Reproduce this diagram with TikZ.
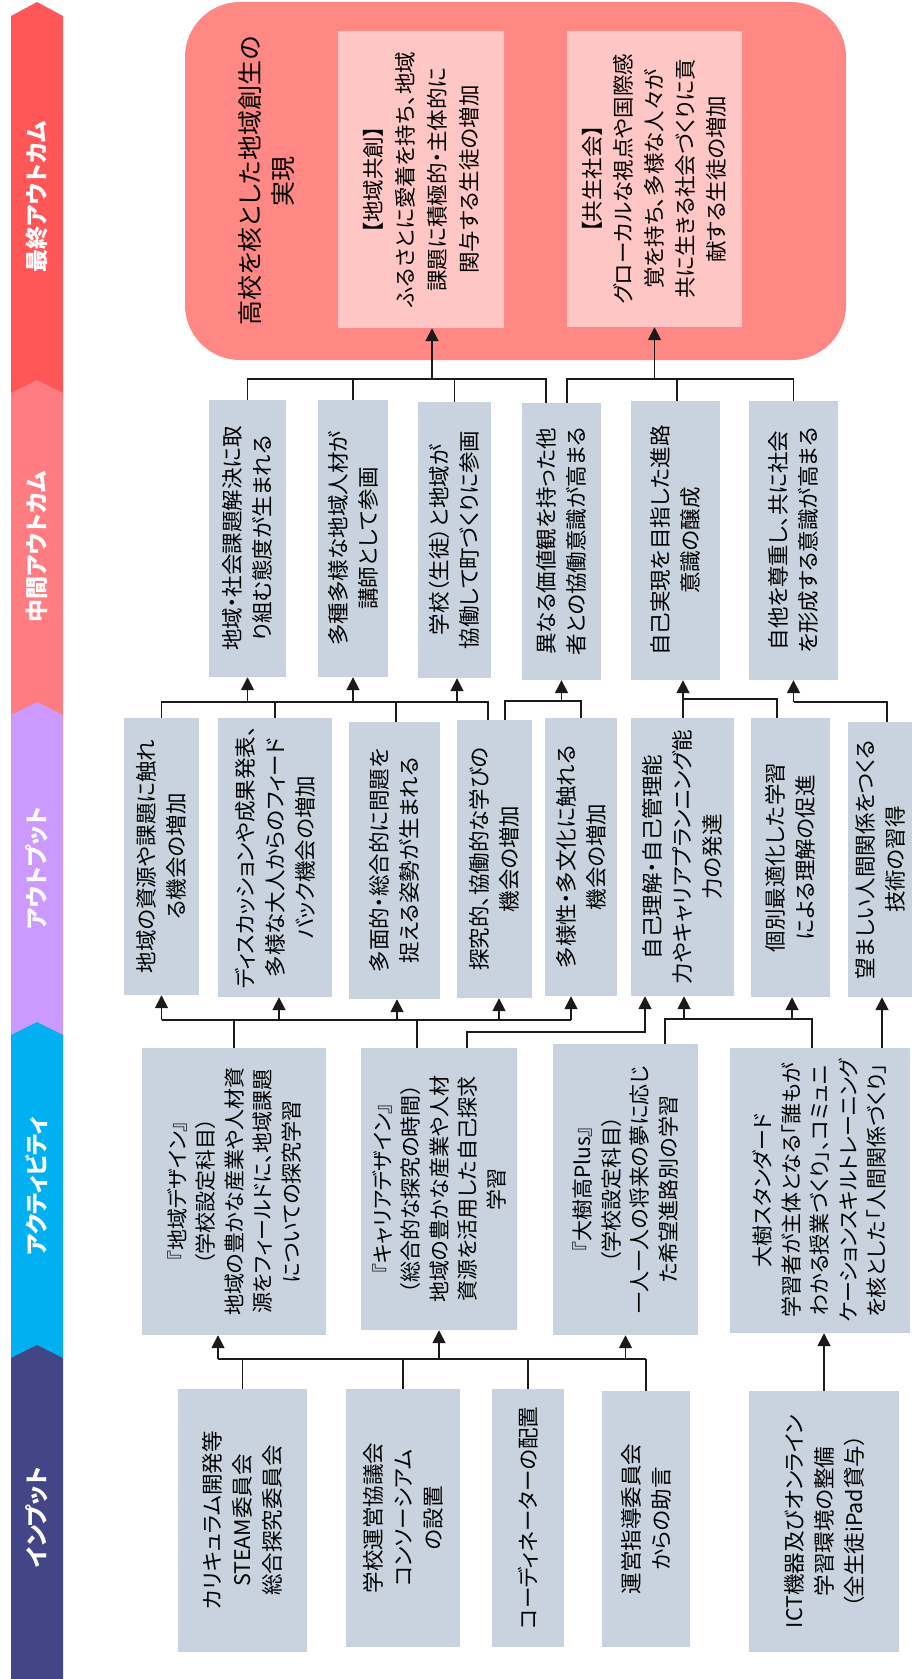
\documentclass[tikz,border=0pt]{standalone}
\usepackage{fontspec}
\setmainfont{Noto Sans CJK JP}[RawFeature=+palt]
\usetikzlibrary{arrows.meta,calc}
\definecolor{hfin}{HTML}{FF5757}
\definecolor{hmid}{HTML}{FF7C80}
\definecolor{hout}{HTML}{CC99FF}
\definecolor{hact}{HTML}{00B0F0}
\definecolor{hin}{HTML}{424586}
\definecolor{bigc}{HTML}{FF8884}
\definecolor{pinkc}{HTML}{FFC6C6}
\definecolor{boxc}{HTML}{C8D3DF}
\definecolor{lnc}{HTML}{1A1A1A}
\begin{document}
\begin{tikzpicture}[x=1pt,y=-1pt,
  ln/.style={line width=1.8pt, draw=lnc},
  arr/.style={ln, -{Triangle[length=13pt,width=13pt]}},
  box/.style={rotate=90, fill=boxc, inner sep=0pt, align=center, font=\fontsize{21.5}{30}\selectfont},
  abox/.style={box, font=\fontsize{21}{28.5}\selectfont},
  hdr/.style={rotate=90, text=white, font=\bfseries\fontsize{23}{26}\selectfont}]
\useasboundingbox (0,0) rectangle (914,1679);
\fill[white] (0,0) rectangle (914,1679);

% header bar
\fill[hfin] (11,16) -- (37,2) -- (63,16) -- (63,400) -- (11,400) -- cycle;
\fill[hmid] (11,393) -- (37,380) -- (63,393) -- (63,720) -- (11,720) -- cycle;
\fill[hout] (11,715) -- (37,702) -- (63,715) -- (63,1040) -- (11,1040) -- cycle;
\fill[hact] (11,1035) -- (37,1022) -- (63,1035) -- (63,1360) -- (11,1360) -- cycle;
\fill[hin] (11,1358) -- (37,1345) -- (63,1358) -- (63,1679) -- (11,1679) -- cycle;
\node[hdr] (h1) at (37,197) {最終アウトカム};
\node[hdr] (h2) at (37,547) {中間アウトカム};
\node[hdr] (h3) at (37,868) {アウトプット};
\node[hdr] (h4) at (37,1186) {アクティビティ};
\node[hdr] (h5) at (37,1517) {インプット};

% final outcome
\node[rotate=90, fill=bigc, rounded corners=55pt, minimum width=358pt, minimum height=661pt, inner sep=0pt] (F) at (515.5,181) {};
\node[rotate=90, align=center, font=\fontsize{25}{33}\selectfont] (FT) at (266.5,181) {高校を核とした地域創生の\\実現};
\node[rotate=90, fill=pinkc, minimum width=297pt, minimum height=166pt, inner sep=0pt, align=center, font=\fontsize{21.5}{32}\selectfont] (F1) at (421,179.5) {【地域共創】\\ふるさとに愛着を持ち、地域\\課題に積極的・主体的に\\関与する生徒の増加};
\node[rotate=90, fill=pinkc, minimum width=296pt, minimum height=175pt, inner sep=0pt, align=center, font=\fontsize{21.5}{31}\selectfont] (F2) at (654.5,179) {【共生社会】\\グローカルな視点や国際感\\覚を持ち、多様な人々が\\共に生きる社会づくりに貢\\献する生徒の増加};

% middle outcomes
\node[box, minimum width=277pt, minimum height=77pt] (M1) at (247.5,538.5) {地域・社会課題解決に取\\り組む態度が生まれる};
\node[box, minimum width=277pt, minimum height=70pt] (M2) at (353,538.5) {多種多様な地域人材が\\講師として参画};
\node[box, minimum width=276pt, minimum height=73pt] (M3) at (454.5,540) {学校（生徒）と地域が\\協働して町づくりに参画};
\node[box, minimum width=277pt, minimum height=79pt] (M4) at (561.5,541.5) {異なる価値観を持った他\\者との協働意識が高まる};
\node[box, minimum width=279pt, minimum height=89pt] (M5) at (675.5,540.5) {自己実現を目指した進路\\意識の醸成};
\node[box, minimum width=279pt, minimum height=89pt] (M6) at (793.5,540.5) {自他を尊重し、共に社会\\を形成する意識が高まる};

% outputs
\node[box, minimum width=277pt, minimum height=75pt] (O1) at (161.5,856.5) {地域の資源や課題に触れ\\る機会の増加};
\node[box, minimum width=279pt, minimum height=114pt] (O2) at (275,857.5) {ディスカッションや成果発表、\\多様な大人からのフィード\\バック機会の増加};
\node[box, minimum width=277pt, minimum height=91pt] (O3) at (394.5,860.5) {多面的・総合的に問題を\\捉える姿勢が生まれる};
\node[box, minimum width=278pt, minimum height=75pt] (O4) at (494.5,859) {探究的、協働的な学びの\\機会の増加};
\node[box, minimum width=278pt, minimum height=72pt] (O5) at (581,857) {多様性・多文化に触れる\\機会の増加};
\node[box, minimum width=278pt, minimum height=103pt] (O6) at (682.5,857) {自己理解・自己管理能\\力やキャリアプランニング能\\力の発達};
\node[box, minimum width=279pt, minimum height=79pt] (O7) at (790.5,857.5) {個別最適化した学習\\による理解の促進};
\node[box, minimum width=275pt, minimum height=64pt] (O8) at (880,859.5) {望ましい人間関係をつくる\\技術の習得};

% activities
\node[abox, minimum width=287pt, minimum height=184pt] (A1) at (234,1191.5) {『地域デザイン』\\（学校設定科目）\\地域の豊かな産業や人材資\\源をフィールドに、地域課題\\についての探究学習};
\node[abox, minimum width=282pt, minimum height=156pt] (A2) at (439,1189) {『キャリアデザイン』\\（総合的な探究の時間）\\地域の豊かな産業や人材\\資源を活用した自己探求\\学習};
\node[abox, minimum width=291pt, minimum height=145pt] (A3) at (625.5,1189.5) {『大樹高Plus』\\（学校設定科目）\\一人一人の将来の夢に応じ\\た希望進路別の学習};
\node[abox, minimum width=285pt, minimum height=180pt] (A4) at (820,1190.5) {大樹スタンダード\\学習者が主体となる「誰もが\\わかる授業づくり」、コミュニ\\ケーションスキルトレーニング\\を核とした「人間関係づくり」};

% inputs
\node[box, minimum width=263pt, minimum height=129pt] (I1) at (242.5,1520.5) {カリキュラム開発等\\STEAM委員会\\総合探究委員会};
\node[box, minimum width=258pt, minimum height=114pt] (I2) at (403,1518) {学校運営協議会\\コンソーシアム\\の設置};
\node[box, minimum width=258pt, minimum height=72pt] (I3) at (528,1518) {コーディネーターの配置};
\node[box, minimum width=256pt, minimum height=88pt] (I4) at (646,1519) {運営指導委員会\\からの助言};
\node[box, minimum width=261pt, minimum height=150pt] (I5) at (824,1521.5) {ICT機器及びオンライン\\学習環境の整備\\（全生徒iPad貸与）};

% ---- connectors: input -> activity
\coordinate (ia) at (218,1359);
\draw[ln] (I1.east) -- (I1.east |- ia);
\draw[ln] (I2.east) -- (I2.east |- ia);
\draw[ln] (I3.east) -- (I3.east |- ia);
\draw[ln] (I4.east) -- (I4.east |- ia);
\draw[ln] (ia) -- (I4.east |- ia);
\draw[arr] (ia) -- (ia |- A1.west);
\draw[arr] (A2.west |- ia) -- (A2.west);
\draw[arr] (A3.west |- ia) -- (A3.west);
\draw[arr] (I5.east) -- (I5.east |- A4.west);

% ---- activity -> output
\coordinate (ao) at (161.5,1020);
\coordinate (ao5) at (571,1020);
\coordinate (a2d) at (417,1020);
\draw[ln] (A1.east) -- (A1.east |- ao);
\draw[ln] (a2d |- A2.east) -- (a2d);
\draw[ln] (ao) -- (ao5);
\draw[arr] (ao) -- (O1.west);
\draw[arr] ($(O2.west |- ao)+(4,0)$) -- ($(O2.west)+(4,0)$);
\draw[arr] ($(O3.west |- ao)+(2.5,0)$) -- ($(O3.west)+(2.5,0)$);
\draw[arr] ($(O4.west |- ao)+(4.5,0)$) -- ($(O4.west)+(4.5,0)$);
\draw[arr] (ao5) -- (ao5 |- O5.west);
\coordinate (a2o6) at (467,1032);
\coordinate (o6a) at (645,1032);
\draw[arr] (a2o6 |- A2.east) -- (a2o6) -- (o6a) -- (o6a |- O6.west);
\coordinate (a3b) at (665,1019);
\coordinate (a4b) at (812,1019);
\draw[ln] (a3b |- A3.east) -- (a3b) -- (a4b) -- (a4b |- A4.east);
\draw[arr] ($(O6.west |- a3b)+(1.5,0)$) -- ($(O6.west)+(1.5,0)$);
\draw[arr] ($(O7.west |- a3b)+(1.5,0)$) -- ($(O7.west)+(1.5,0)$);
\draw[arr] ($(O8.west |- A4.east)+(2,0)$) -- ($(O8.west)+(2,0)$);

% ---- output -> middle
\coordinate (om) at (161.5,702);
\coordinate (o4a) at (488,702);
\draw[ln] (O1.east) -- (om) -- (o4a) -- (o4a |- O4.east);
\draw[ln] (O2.east) -- (O2.east |- om);
\draw[ln] ($(O3.east)+(1.5,0)$) -- ($(O3.east |- om)+(1.5,0)$);
\draw[arr] (M1.west |- om) -- (M1.west);
\draw[arr] (M2.west |- om) -- (M2.west);
\draw[arr] ($(M3.west |- om)+(2.5,0)$) -- ($(M3.west)+(2.5,0)$);
\coordinate (o4b) at (505,701);
\draw[ln] (o4b |- O4.east) -- (o4b) -- (O5.east |- o4b) -- (O5.east);
\draw[arr] (M4.west |- o4b) -- (M4.west);
\coordinate (c6) at (683,699);
\coordinate (c7) at (777,699);
\draw[arr] (c6 |- O6.east) -- (c6 |- M5.west);
\draw[ln] (c7 |- O7.east) -- (c7) -- (c6);
\coordinate (d8) at (887,702);
\draw[ln] (d8 |- O8.east) -- (d8) -- (M6.west |- d8);
\draw[arr] (M6.west |- d8) -- (M6.west);

% ---- middle -> final
\coordinate (f1) at (432,379);
\coordinate (m4a) at (546,379);
\coordinate (m4b) at (567,379);
\draw[ln] (M1.east) -- (M1.east |- f1) -- (m4a) -- (m4a |- M4.east);
\draw[ln] (M2.east) -- (M2.east |- f1);
\draw[ln] (M3.east) -- (M3.east |- f1);
\draw[arr] (f1) -- (f1 |- F1.west);
\draw[ln] (m4b |- M4.east) -- (m4b) -- (M6.east |- m4b) -- (M6.east);
\draw[ln] ($(M5.east)+(1.5,0)$) -- ($(M5.east |- m4b)+(1.5,0)$);
\draw[arr] (F2.west |- m4b) -- (F2.west);
\end{tikzpicture}
\end{document}
